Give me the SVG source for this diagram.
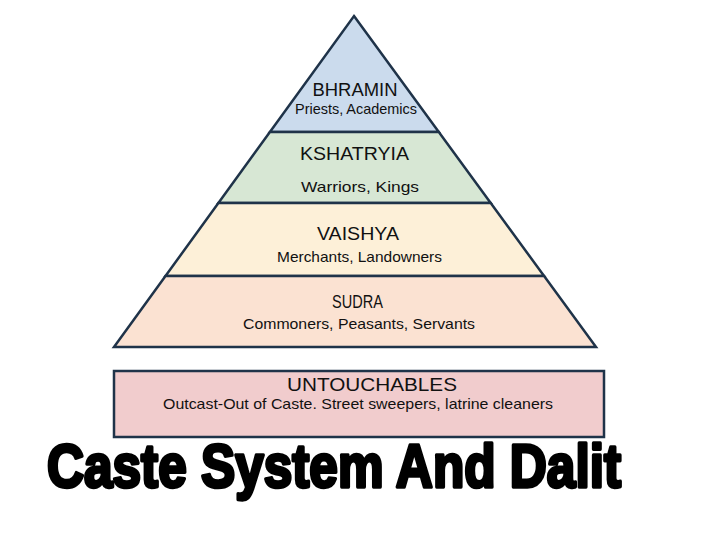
<svg xmlns="http://www.w3.org/2000/svg" width="720" height="540" viewBox="0 0 720 540">
<style>
.tier{stroke:#1f3349;stroke-width:2.5;stroke-linejoin:miter}
.h{font-family:"Liberation Sans",Arial,sans-serif;font-size:18.5px;fill:#111;text-anchor:middle}
.s{font-family:"Liberation Sans",Arial,sans-serif;font-size:14.5px;fill:#111;text-anchor:middle}
.title{font-family:"Liberation Sans",Arial,sans-serif;font-weight:bold;font-size:61px;fill:#000;stroke:#000;stroke-width:3.5;stroke-linejoin:round}
</style>
<rect width="720" height="540" fill="#ffffff"/>
<g id="bhramin">
<polygon class="tier" fill="#cbdbed" points="354,16 438.8,132 269.9,132"/>
<text class="h" x="355" y="96" textLength="85" lengthAdjust="spacingAndGlyphs">BHRAMIN</text>
<text class="s" x="356" y="114" textLength="122" lengthAdjust="spacingAndGlyphs">Priests, Academics</text>
</g>
<g id="kshatriya">
<polygon class="tier" fill="#d7e7d4" points="269.9,132 438.8,132 490.7,203 218.4,203"/>
<text class="h" x="354.5" y="160" textLength="109" lengthAdjust="spacingAndGlyphs">KSHATRYIA</text>
<text class="s" x="360" y="192" font-size="15.5" textLength="118" lengthAdjust="spacingAndGlyphs">Warriors, Kings</text>
</g>
<g id="vaishya">
<polygon class="tier" fill="#fdf0d8" points="218.4,203 490.7,203 544.1,276 165.5,276"/>
<text class="h" x="358" y="240" textLength="82" lengthAdjust="spacingAndGlyphs">VAISHYA</text>
<text class="s" x="359.5" y="262" textLength="165" lengthAdjust="spacingAndGlyphs">Merchants, Landowners</text>
</g>
<g id="sudra">
<polygon class="tier" fill="#fbe2d2" points="165.5,276 544.1,276 596,347 114,347"/>
<text class="h" x="357.5" y="308" textLength="51" lengthAdjust="spacingAndGlyphs">SUDRA</text>
<text class="s" x="359" y="329" textLength="232" lengthAdjust="spacingAndGlyphs">Commoners, Peasants, Servants</text>
</g>
<g id="untouchables">
<rect class="tier" fill="#f1cccd" x="114" y="371" width="490" height="66" stroke-width="3"/>
<text class="h" x="372" y="391" font-size="19.5" textLength="170" lengthAdjust="spacingAndGlyphs">UNTOUCHABLES</text>
<text class="s" x="358" y="409" textLength="390" lengthAdjust="spacingAndGlyphs">Outcast-Out of Caste. Street sweepers, latrine cleaners</text>
</g>
<g id="connectors"></g>
<text class="title" x="47" y="487" textLength="574" lengthAdjust="spacingAndGlyphs">Caste System And Dalit</text>
</svg>
